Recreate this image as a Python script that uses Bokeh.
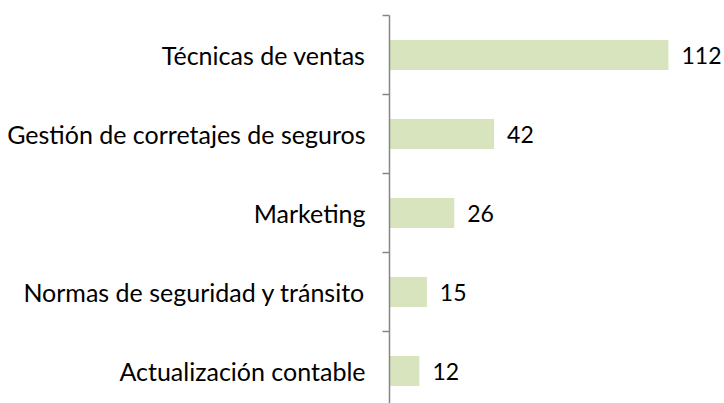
from bokeh.plotting import figure
from bokeh.models import FixedTicker, ColumnDataSource
from bokeh.core.properties import value
from bokeh.embed import file_html
from bokeh.resources import INLINE

categories = ["Técnicas de ventas", "Gestión de corretajes de seguros", "Marketing",
              "Normas de seguridad y tránsito", "Actualización contable"]
counts = [112, 42, 26, 15, 12]

n = len(categories)
ypos = [n - i for i in range(n)]
labels = [str(c) for c in counts]
src = ColumnDataSource(dict(y=ypos, v=counts, lab=labels))

FONT = "Lato"
p = figure(width=724, height=403, output_backend="svg", toolbar_location=None,
           x_range=(0, 134.5), y_range=(0.59, 5.5),
           min_border_left=389, min_border_right=0, min_border_top=15, min_border_bottom=0)
p.outline_line_color = None
p.xgrid.visible = False
p.ygrid.visible = False
p.xaxis.visible = False

p.hbar(y="y", right="v", left=0, height=0.38, source=src, color="#d7e4bd", line_color=None)
p.text(x="v", y="y", text="lab", source=src, x_offset=13, text_baseline="middle",
       text_align="left", text_font=value(FONT), text_font_size="23px", text_color="#000000")

ax = p.yaxis[0]
ax.ticker = FixedTicker(ticks=ypos, minor_ticks=[k + 0.5 for k in range(n + 1)])
ax.major_label_overrides = {y: c for y, c in zip(ypos, categories)}
ax.major_tick_out = 0
ax.major_tick_in = 0
ax.minor_tick_out = 7
ax.minor_tick_in = 0
ax.minor_tick_line_color = "#868686"
ax.axis_line_color = "#868686"
ax.axis_line_width = 1.5
ax.minor_tick_line_width = 1.5
ax.major_label_standoff = 17
ax.major_label_text_font = FONT
ax.major_label_text_font_size = "25px"
ax.major_label_text_color = "#000000"

open("out.html", "w").write(file_html(p, INLINE))
